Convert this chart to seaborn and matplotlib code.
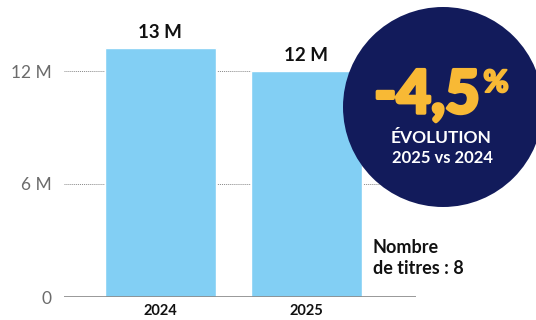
import matplotlib
matplotlib.use("Agg")
import matplotlib.pyplot as plt
import matplotlib.patheffects as pe
import seaborn as sns
import pandas as pd
from matplotlib.patches import Circle

years = ["2024", "2025"]
values = [13.2, 12.0]
value_labels = ["13 M", "12 M"]
ytick_vals = [0, 6, 12]
ytick_labels = ["0", "6 M", "12 M"]
evolution = "-4,5"
evo_line1 = "ÉVOLUTION"
evo_line2 = "2025 vs 2024"
note = "Nombre\nde titres : 8"

sns.set_theme(style="white")
plt.rcParams["font.family"] = ["Lato", "DejaVu Sans"]

fig = plt.figure(figsize=(5.36, 3.20), dpi=100)
ax = fig.add_axes([64/536, 23/320, 352/536, 282.5/320])

df = pd.DataFrame({"year": years, "value": values})
sns.barplot(data=df, x="year", y="value", color="#82CFF4", saturation=1,
            width=0.76, ax=ax, zorder=2)

ax.set_xlim(-0.658, 1.753)
ax.set_ylim(0, 15)
ax.set_yticks(ytick_vals)
ax.set_yticklabels(ytick_labels, color="#6b6b6b", fontsize=12.5)
ax.tick_params(axis="y", length=0, pad=9)
ax.tick_params(axis="x", length=0, pad=5)
for lab in ax.get_xticklabels():
    lab.set_fontweight("bold")
    lab.set_fontsize(10.5)
    lab.set_color("#111111")
ax.set_xlabel("")
ax.set_ylabel("")
for s in ax.spines.values():
    s.set_visible(False)
for v in ytick_vals[1:]:
    ax.axhline(v, color="#888888", lw=0.7, ls=(0, (1, 1)), zorder=1)
ax.axhline(0, color="#888888", lw=1.2, zorder=3)

for i, (v, lab) in enumerate(zip(values, value_labels)):
    ax.annotate(lab, (i, v), xytext=(0, 5), textcoords="offset points",
                ha="center", va="bottom", fontsize=13.5, fontweight="bold",
                color="#111111")

ax.text(373/536, 1 - 258/320, note, transform=fig.transFigure, ha="left",
        va="center", fontsize=13, fontweight="bold", color="#111111",
        linespacing=1.3)

# circle badge
circ = Circle((443, 320 - 107), 100, transform=None, facecolor="#121B5B",
              edgecolor="none", zorder=5)
fig.patches.append(circ)
thick = [pe.withStroke(linewidth=2.5, foreground="#F8B935")]
fig.text(427/536, 1 - 95/320, evolution, ha="center", va="center",
         fontsize=43, fontweight="black", color="#F8B935", zorder=6,
         path_effects=thick)
fig.text(496/536, 1 - 83/320, "%", ha="center", va="center",
         fontsize=22, fontweight="black", color="#F8B935", zorder=6,
         path_effects=[pe.withStroke(linewidth=1.5, foreground="#F8B935")])
fig.text(441/536, 1 - 138/320, evo_line1, ha="center", va="center",
         fontsize=12.5, fontweight="bold", color="white", zorder=6)
fig.text(442/536, 1 - 158/320, evo_line2, ha="center", va="center",
         fontsize=12, fontweight="bold", color="white", zorder=6)

fig.savefig("out.png", dpi=100)
